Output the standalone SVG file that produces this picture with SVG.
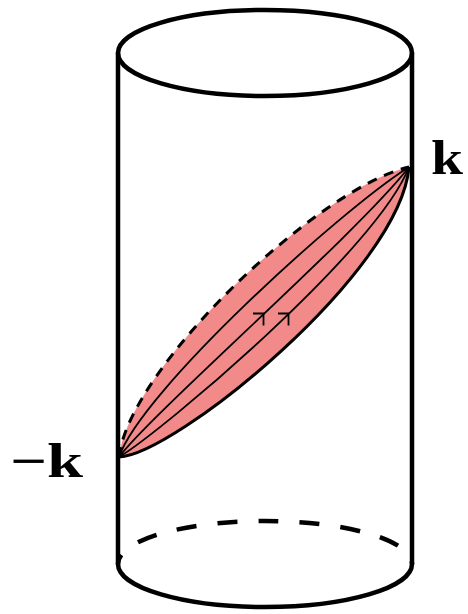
<svg xmlns="http://www.w3.org/2000/svg" width="468" height="614" viewBox="0 0 468 614">
<style>
.cyl{fill:none;stroke:#000;stroke-width:4.5;stroke-linecap:round}
.dash{fill:none;stroke:#000;stroke-width:4.5;stroke-dasharray:20 21;stroke-dashoffset:10}
.bnd{fill:none;stroke:#000;stroke-width:3}
.ln{fill:none;stroke:#000;stroke-width:1.8}
.lbl{font-family:"Liberation Serif","DejaVu Serif",serif;font-weight:bold;font-size:48px;fill:#000}
</style>
<g id="cylinder">
<ellipse cx="265" cy="53" rx="147" ry="43" class="cyl"/>
<line x1="118" y1="53" x2="118" y2="564" class="cyl"/>
<line x1="412" y1="53" x2="412" y2="564" class="cyl"/>
<path d="M118,564 A147,43 0 0 0 412,564" class="cyl"/>
<path d="M118,564 A147,43 0 0 1 412,564" class="dash"/>
</g>
<g id="lens">
<path d="M119,457 C129,368 318,188 409,167 C400,272 175,455 119,457 Z" fill="#f38a8a"/>
<path d="M119,457 C129,368 318,188 409,167" class="bnd" stroke-dasharray="10 8"/>
<path d="M119,457 C175,455 400,272 409,167" class="bnd"/>
</g>
<g id="connectors">
<path d="M119,457 C141.25,391.25 340,210.5 409,167" class="ln"/>
<path d="M119,457 C152.5,412.5 360,231 409,167" class="ln"/>
<path d="M119,457 C162.4,431.2 377.6,249 409,167" class="ln"/>
<path d="M253,313.5 H263.5 V325.5" class="ln"/>
<path d="M278,313.5 H288.5 V325.5" class="ln"/>
</g>
<g id="label-k">
<text x="431" y="174" class="lbl" textLength="32" lengthAdjust="spacingAndGlyphs">k</text>
</g>
<g id="label-minus-k">
<text x="10" y="477" class="lbl" textLength="73" lengthAdjust="spacingAndGlyphs">−k</text>
</g>
</svg>
